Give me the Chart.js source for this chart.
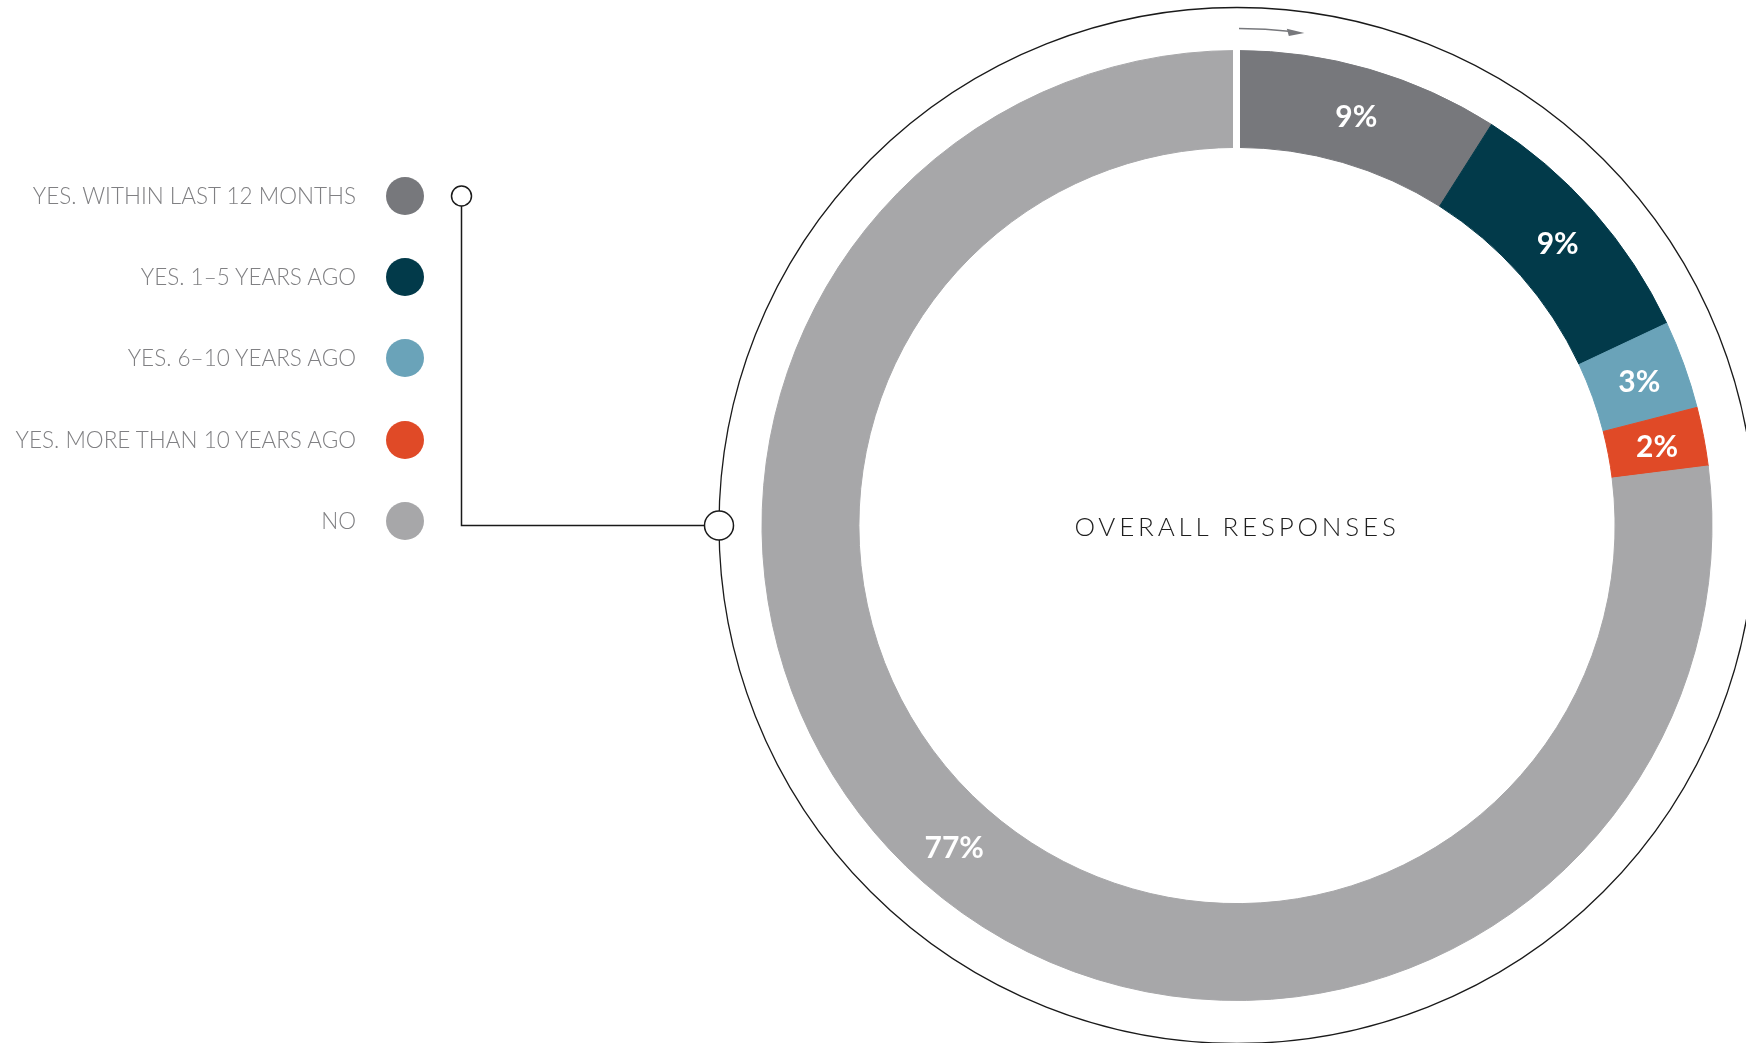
<!DOCTYPE html>
<html>
<head>
<meta charset="utf-8">
<script src="https://cdn.jsdelivr.net/npm/chart.js@4.4.1/dist/chart.umd.min.js"></script>
<style>
  html, body { margin: 0; padding: 0; background: #fff; }
  #wrap { position: relative; width: 1746px; height: 1043px; overflow: hidden; }
  #chart { position: absolute; left: 0; top: 0; }
  .lbl { position: absolute; left: 0; width: 356px; text-align: right; font-family: Lato, 'Open Sans', sans-serif;
         font-weight: 300; font-size: 22.5px; line-height: 24px; color: #808083; white-space: nowrap; }
  .dot { position: absolute; left: 386px; width: 38px; height: 38px; border-radius: 50%; }
  #center { position: absolute; left: 937px; width: 600px; top: 511px; text-align: center;
            font-family: Lato, 'Open Sans', sans-serif; font-weight: 300; font-size: 26px; line-height: 30px;
            letter-spacing: 3.8px; color: #1e1e1e; }
</style>
</head>
<body>
<div id="wrap">
  <canvas id="chart" width="1746" height="1043"></canvas>
  <div id="legend"></div>
  <div id="center">OVERALL RESPONSES</div>
</div>
<script>
const labels = ['YES. WITHIN LAST 12 MONTHS', 'YES. 1–5 YEARS AGO', 'YES. 6–10 YEARS AGO', 'YES. MORE THAN 10 YEARS AGO', 'NO'];
const values = [9, 9, 3, 2, 77];
const colors = ['#77787c', '#023a4a', '#6aa3b9', '#e04a27', '#a7a7a9'];

// legend rows (html)
const legTop = 196, legGap = 81.2;
const legend = document.getElementById('legend');
legend.innerHTML = labels.map((l, i) => `
  <div class="lbl" style="top:${legTop + i * legGap - 12}px">${l}</div>
  <div class="dot" style="top:${legTop + i * legGap - 19}px;background:${colors[i]}"></div>
`).join('');

const decor = {
  id: 'decor',
  afterDatasetsDraw(chart) {
    const ctx = chart.ctx;
    const arcs = chart.getDatasetMeta(0).data;
    const a0 = arcs[0];
    const cx = a0.x, cy = a0.y, R = a0.outerRadius, r = a0.innerRadius;
    const ringR = R + 43;
    ctx.save();

    // white gap where the ring starts
    ctx.strokeStyle = '#fff';
    ctx.lineWidth = 7;
    ctx.beginPath();
    ctx.moveTo(cx - 0.5, cy - R - 3);
    ctx.lineTo(cx - 0.5, cy - r + 3);
    ctx.stroke();

    // thin outer ring
    ctx.strokeStyle = '#1a1a1a';
    ctx.lineWidth = 1.3;
    ctx.beginPath();
    ctx.arc(cx, cy, ringR, 0, Math.PI * 2);
    ctx.stroke();

    // direction arrow
    const arR = R + 22;
    const s = -Math.PI / 2 + 0.004, e = -Math.PI / 2 + 0.11;
    ctx.strokeStyle = '#77787c';
    ctx.fillStyle = '#77787c';
    ctx.lineWidth = 1.6;
    ctx.beginPath();
    ctx.arc(cx, cy, arR, s, e);
    ctx.stroke();
    const tipA = e + 0.026;
    const tx = cx + arR * Math.cos(tipA), ty = cy + arR * Math.sin(tipA);
    const tang = tipA + Math.PI / 2;
    const bx = tx - 15 * Math.cos(tang), by = ty - 15 * Math.sin(tang);
    const nx = Math.cos(tipA), ny = Math.sin(tipA);
    ctx.beginPath();
    ctx.moveTo(tx, ty);
    ctx.lineTo(bx - 5 * nx, by - 5 * ny);
    ctx.lineTo(bx + 2 * nx - 3 * Math.cos(tang), by + 2 * ny - 3 * Math.sin(tang));
    ctx.closePath();
    ctx.fill();

    // connector from legend to ring
    const px = 461.5, py = legTop;
    ctx.strokeStyle = '#1a1a1a';
    ctx.lineWidth = 1.5;
    ctx.beginPath();
    ctx.moveTo(px, py + 10);
    ctx.lineTo(px, cy);
    ctx.lineTo(cx - ringR - 14.5, cy);
    ctx.stroke();
    ctx.fillStyle = '#fff';
    ctx.beginPath();
    ctx.arc(px, py, 10, 0, Math.PI * 2);
    ctx.fill(); ctx.stroke();
    ctx.beginPath();
    ctx.arc(cx - ringR, cy, 14.5, 0, Math.PI * 2);
    ctx.fill(); ctx.stroke();

    // value labels on the ring's mid line
    ctx.fillStyle = '#fff';
    ctx.font = "bold 30px Lato, 'Open Sans', sans-serif";
    ctx.textAlign = 'center';
    ctx.textBaseline = 'middle';
    arcs.forEach((a, i) => {
      const mid = (a.startAngle + a.endAngle) / 2;
      const rr = (a.innerRadius + a.outerRadius) / 2 + 1;
      ctx.fillText(values[i] + '%', a.x + rr * Math.cos(mid), a.y + rr * Math.sin(mid) + 2);
    });
    ctx.restore();
  }
};

new Chart(document.getElementById('chart'), {
  type: 'doughnut',
  data: {
    labels: labels,
    datasets: [{
      data: values,
      backgroundColor: colors,
      borderColor: colors,
      borderWidth: 1
    }]
  },
  options: {
    responsive: false,
    animation: false,
    events: [],
    cutout: '79.6%',
    layout: { padding: { left: 761.5, right: 33.5, top: 50, bottom: 42 } },
    plugins: {
      legend: { display: false },
      tooltip: { enabled: false }
    }
  },
  plugins: [decor]
});
</script>
</body>
</html>
